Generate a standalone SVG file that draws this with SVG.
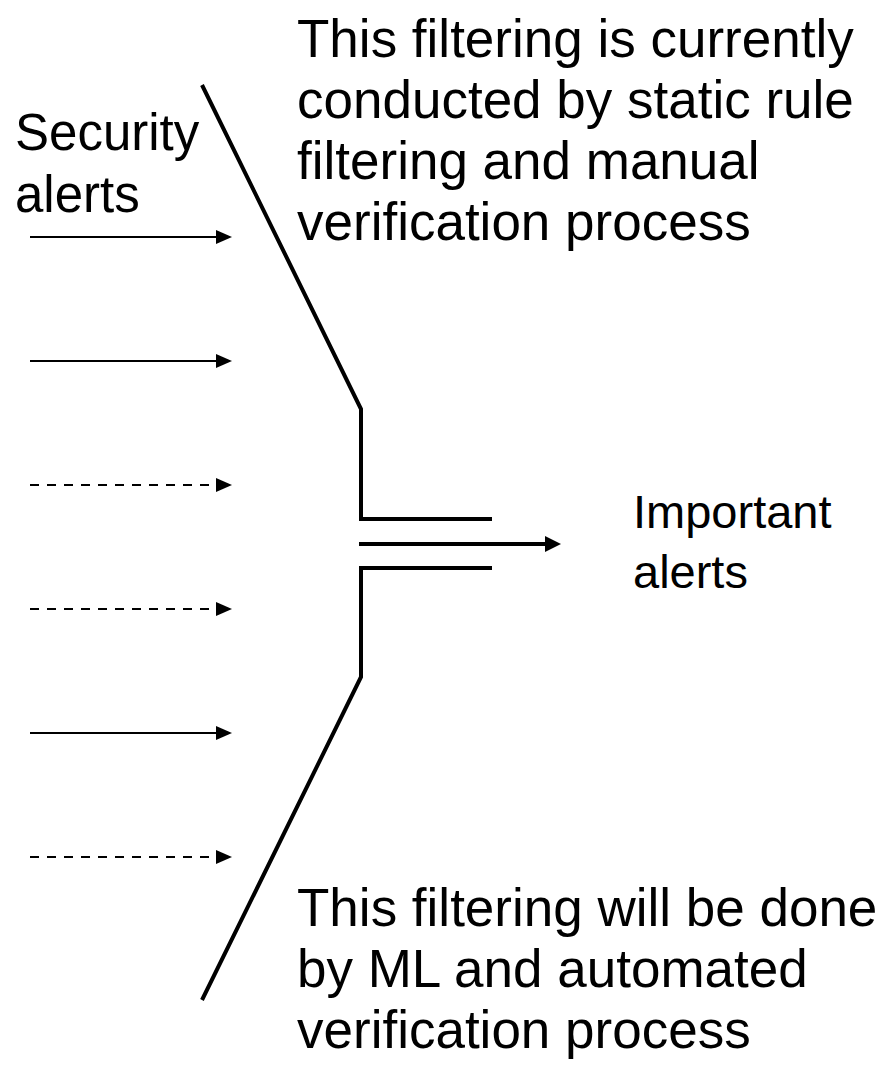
<svg xmlns="http://www.w3.org/2000/svg" width="884" height="1067" viewBox="0 0 884 1067">
  <style>
    text { font-family: "Liberation Sans", Arial, sans-serif; fill: #000; }
    .big { font-size: 53px; }
    .mid { font-size: 51px; }
    .out { font-size: 47px; }
    .feed { stroke: #000; stroke-width: 2; fill: none; }
    .dash { stroke-dasharray: 9 8; }
    .wall { stroke: #000; stroke-width: 4; fill: none; stroke-linejoin: miter; stroke-linecap: butt; }
    .pipe { stroke: #000; stroke-width: 4; fill: none; }
  </style>
  <defs>
    <marker id="headSmall" markerUnits="userSpaceOnUse" markerWidth="16" markerHeight="16" refX="0" refY="8" orient="auto" overflow="visible">
      <path d="M0,1 L16,8 L0,15 Z" fill="#000"/>
    </marker>
    <marker id="headBig" markerUnits="userSpaceOnUse" markerWidth="16" markerHeight="18" refX="0" refY="9" orient="auto" overflow="visible">
      <path d="M0,1 L16,9 L0,17 Z" fill="#000"/>
    </marker>
  </defs>

  <rect width="884" height="1067" fill="#fff"/>

  <!-- incoming alerts -->
  <g id="connectors">
    <line class="feed" x1="30" y1="237" x2="216" y2="237" marker-end="url(#headSmall)"/>
    <line class="feed" x1="30" y1="361" x2="216" y2="361" marker-end="url(#headSmall)"/>
    <line class="feed dash" x1="30" y1="485" x2="216" y2="485" marker-end="url(#headSmall)"/>
    <line class="feed dash" x1="30" y1="609" x2="216" y2="609" marker-end="url(#headSmall)"/>
    <line class="feed" x1="30" y1="733" x2="216" y2="733" marker-end="url(#headSmall)"/>
    <line class="feed dash" x1="30" y1="857" x2="216" y2="857" marker-end="url(#headSmall)"/>
    <!-- filtered output -->
    <line class="pipe" x1="359" y1="544" x2="545" y2="544" marker-end="url(#headBig)"/>
  </g>

  <!-- funnel walls -->
  <g id="funnel">
    <polyline class="wall" points="202,85 361,409 361,519 492,519"/>
    <polyline class="wall" points="492,568 361,568 361,677 202,1000"/>
  </g>

  <g id="label-input">
    <text class="mid" x="15" y="150">Security</text>
    <text class="mid" x="15" y="212">alerts</text>
  </g>

  <g id="label-output">
    <text class="out" x="633" y="528">Important</text>
    <text class="out" x="633" y="588">alerts</text>
  </g>

  <g id="note-current">
    <text class="big" x="297" y="57">This filtering is currently</text>
    <text class="big" x="297" y="118">conducted by static rule</text>
    <text class="big" x="297" y="179">filtering and manual</text>
    <text class="big" x="297" y="240">verification process</text>
  </g>

  <g id="note-future">
    <text class="big" x="297" y="926">This filtering will be done</text>
    <text class="big" x="297" y="987">by ML and automated</text>
    <text class="big" x="297" y="1048">verification process</text>
  </g>
</svg>
